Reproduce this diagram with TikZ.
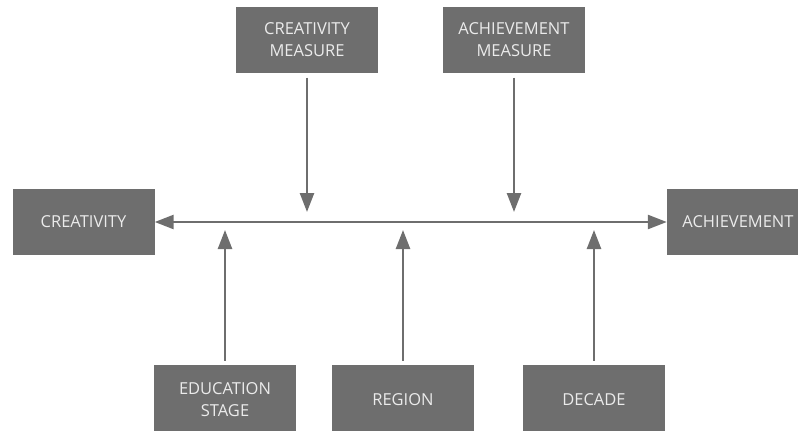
\documentclass[tikz,border=0pt]{standalone}
\usepackage{fontspec}
\setmainfont{Open Sans}
\usetikzlibrary{arrows.meta}

\definecolor{boxgray}{RGB}{110,110,110}
\definecolor{labelgray}{RGB}{235,235,235}

\begin{document}
\begin{tikzpicture}[
			x=1pt, y=-1pt,
			box/.style={fill=boxgray, text=labelgray, minimum width=142pt, minimum height=66pt, inner sep=2pt, align=center, font=\fontsize{16.5}{22}\selectfont},
			link/.style={draw=boxgray, line width=2.5pt, -{Triangle[length=19pt, width=14pt]}}
			]
			\clip (0,0) rectangle (798,431);
			% the two outcomes
			\node[box] (cre) at (83.5,222) {CREATIVITY};
			\node[box] (ach) at (738,222) {ACHIEVEMENT};
			% measures on top
			\node[box] (cmeas) at (307,39.5) {CREATIVITY\\MEASURE};
			\node[box] (ameas) at (514,39.5) {ACHIEVEMENT\\MEASURE};
			% moderators below
			\node[box, minimum height=70pt] (edu) at (225,400) {EDUCATION\\STAGE};
			\node[box, minimum height=70pt] (reg) at (403,400) {REGION};
			\node[box, minimum height=70pt] (dec) at (594,400) {DECADE};
			
			\draw[link, {Triangle[length=19pt, width=14pt]}-{Triangle[length=19pt, width=14pt]}] (cre.east) -- (ach.west);
			
			\draw[link, shorten <=5pt, shorten >=10pt] (cmeas.south) -- (cmeas |- cre);
			\draw[link, shorten <=5pt, shorten >=10pt] (ameas.south) -- (ameas |- cre);
			
			\draw[link, shorten <=4pt, shorten >=8pt] (edu.north) -- (edu |- cre);
			\draw[link, shorten <=4pt, shorten >=8pt] (reg.north) -- (reg |- cre);
			\draw[link, shorten <=4pt, shorten >=8pt] (dec.north) -- (dec |- cre);
		\end{tikzpicture}
\end{document}
